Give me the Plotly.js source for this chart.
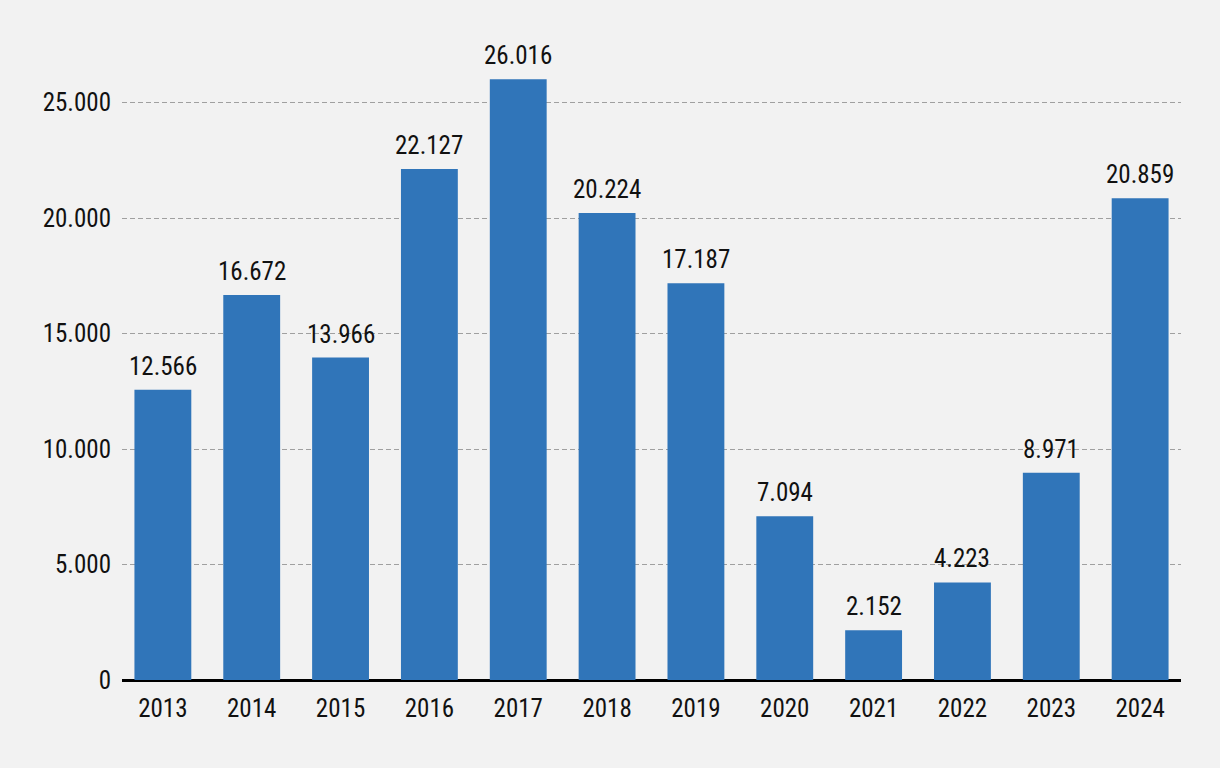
<!DOCTYPE html>
<html>
<head>
<meta charset="utf-8">
<script src="https://cdn.plot.ly/plotly-3.0.1.min.js"></script>
<style>
  html, body { margin: 0; padding: 0; background: #f2f2f2; }
  #myPlot { width: 1220px; height: 768px; }
</style>
</head>
<body>
<div id="myPlot"></div>
<script>
// Years and values
var years = ["2013", "2014", "2015", "2016", "2017", "2018", "2019", "2020", "2021", "2022", "2023", "2024"];
var values = [12566, 16672, 13966, 22127, 26016, 20224, 17187, 7094, 2152, 4223, 8971, 20859];

var fontFamily = "'Roboto Condensed', 'Liberation Sans Narrow', 'Arial Narrow', Roboto, sans-serif";

var data = [{
    type: "bar",
    x: years,
    y: values,
    marker: { color: "#3075b9" },
    hoverinfo: "x+y"
}];

// value labels above the bars (x given as category index)
function fmt(v) {
    return String(v).replace(/\B(?=(\d{3})+(?!\d))/g, ".");
}
var labels = [];
for (var i = 0; i < years.length; i++) {
    labels.push({
        xref: "x",
        yref: "y",
        x: i,
        y: values[i],
        text: fmt(values[i]),
        showarrow: false,
        yanchor: "bottom",
        yshift: 7,
        font: { family: fontFamily, size: 25, color: "#111111" }
    });
}

var layout = {
    width: 1220,
    height: 768,
    paper_bgcolor: "#f2f2f2",
    plot_bgcolor: "#f2f2f2",
    separators: ",.",
    margin: { l: 122, r: 39, t: 45, b: 88 },
    bargap: 0.36,
    showlegend: false,
    annotations: labels,
    font: { family: fontFamily, size: 25, color: "#111111" },
    xaxis: {
        type: "category",
        range: [-0.46, 11.46],
        showgrid: false,
        showline: false,
        ticks: "",
        ticklabelstandoff: 11,
        tickfont: { family: fontFamily, size: 25, color: "#111111" }
    },
    yaxis: {
        range: [0, 27500],
        dtick: 5000,
        tick0: 0,
        tickformat: ",d",
        showgrid: true,
        gridcolor: "#a0a0a0",
        griddash: "5px,3px",
        gridwidth: 1,
        zeroline: true,
        zerolinecolor: "#000000",
        zerolinewidth: 3,
        showline: false,
        ticks: "",
        ticklabelstandoff: 10,
        tickfont: { family: fontFamily, size: 25, color: "#111111" }
    }
};

Plotly.newPlot("myPlot", data, layout, { displayModeBar: false, staticPlot: true });
</script>
</body>
</html>
